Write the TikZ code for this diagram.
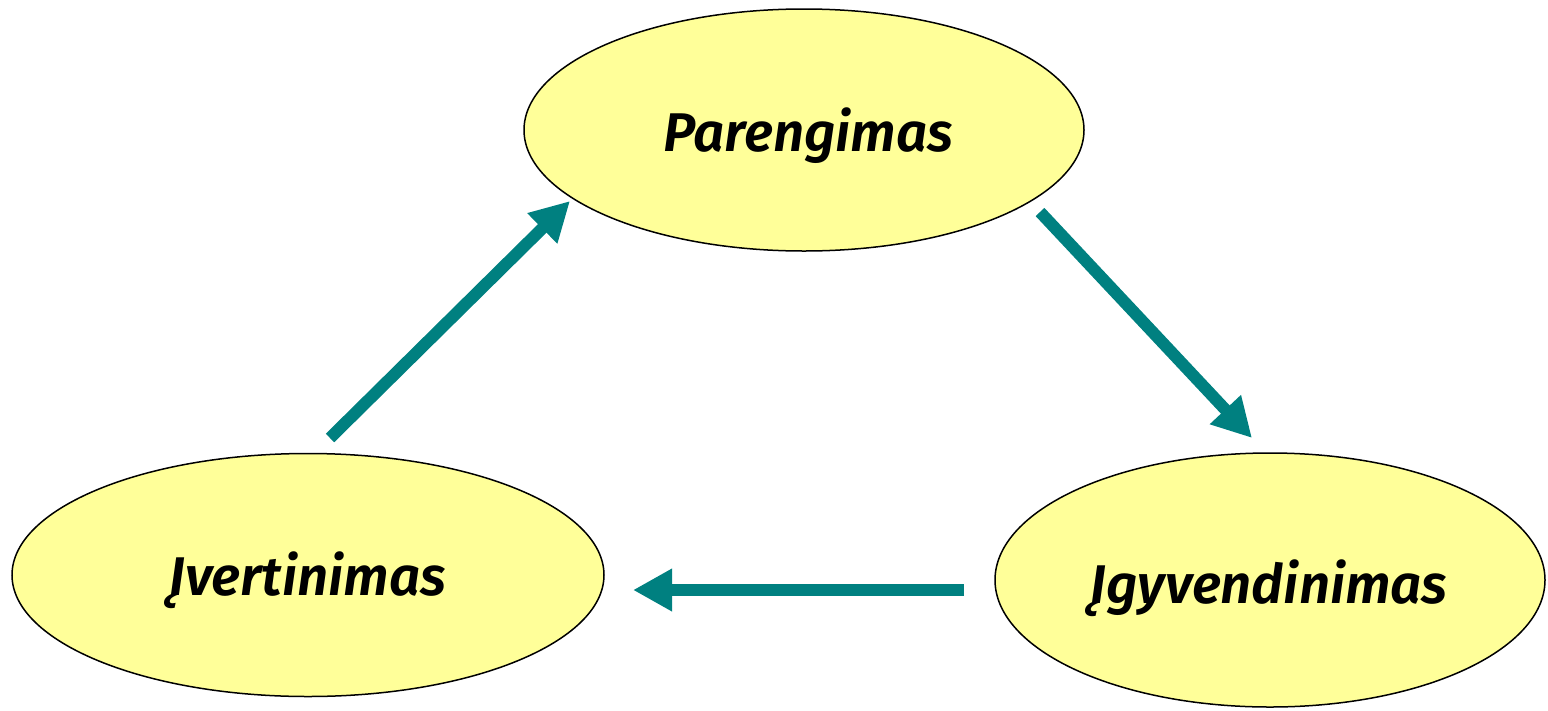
\documentclass[tikz,border=0pt]{standalone}
\usepackage{fontspec}
\setmainfont{Fira Sans}[BoldItalicFont={Fira Sans SemiBold Italic}]
\usetikzlibrary{shapes.geometric,arrows.meta}
\definecolor{teal1}{HTML}{008080}
\definecolor{fillY}{HTML}{FFFF99}
\tikzset{
  phase/.style={ellipse,draw=black,line width=1.5pt,fill=fillY,inner sep=0pt},
  phaselabel/.style={anchor=base,inner sep=0pt,
    font=\fontsize{54.5}{60}\selectfont\bfseries\itshape},
  flow/.style={draw=teal1,line width=12pt,-{Triangle[length=39pt,width=40pt]}}
}
\begin{document}
\begin{tikzpicture}[x=1pt,y=-1pt]
\useasboundingbox (0,0) rectangle (1548,710);
\node[phase,minimum width=560pt,minimum height=242pt] (par) at (804,130) {};
\node[phase,minimum width=592pt,minimum height=243pt] (ive) at (308,575) {};
\node[phase,minimum width=550pt,minimum height=254pt] (igy) at (1270,580) {};
\node[phaselabel] (parT) at (808,151) {Parengimas};
\node[phaselabel] (iveT) at (307.5,595) {Įvertinimas};
\node[phaselabel] (igyT) at (1269,603) {Įgyvendinimas};
\coordinate (a1s) at (330,438);
\coordinate (a1e) at (570,201);
\coordinate (a2s) at (1040,212);
\coordinate (a2e) at (1252,438);
\coordinate (a3s) at (964,590);
\coordinate (a3e) at (633,590);
\draw[flow] (a1s) -- (a1e);
\draw[flow] (a2s) -- (a2e);
\draw[flow] (a3s) -- (a3e);
\end{tikzpicture}
\end{document}
